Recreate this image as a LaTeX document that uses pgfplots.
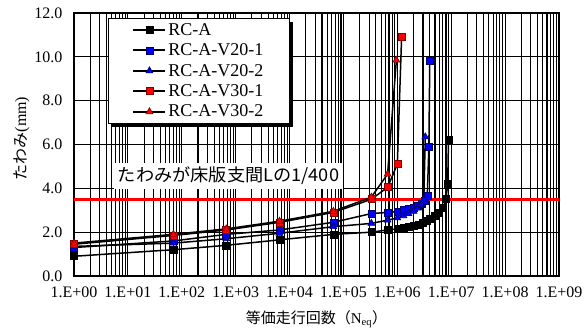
\documentclass[border=0pt]{standalone}
\usepackage{fontspec}
\setmainfont{Liberation Serif}
\newfontfamily\jp{Noto Sans CJK JP}
\usepackage{pgfplots}
\pgfplotsset{compat=1.18}
\begin{document}
\begin{tikzpicture}
\begin{axis}[
  at={(0,0)}, anchor=south west,
  scale only axis, width=485bp, height=263bp,
  xmode=log,
  xmin=1, xmax=1e9, ymin=0, ymax=12,
  xtick={1,10,100,1000,10000,100000,1000000,10000000,100000000,1000000000},
  xticklabels={1.E+00,1.E+01,1.E+02,1.E+03,1.E+04,1.E+05,1.E+06,1.E+07,1.E+08,1.E+09},
  ytick={0,2,4,6,8,10,12},
  yticklabel style={/pgf/number format/fixed, /pgf/number format/fixed zerofill, /pgf/number format/precision=1, /pgf/number format/assume math mode=true, xshift=-8bp},
  tick label style={font=\fontsize{16bp}{19bp}\selectfont},
  xticklabel style={yshift=-7bp},
  grid=both,
  grid style={black, line width=1bp},
  major grid style={black, line width=1.1bp},
  minor grid style={black, line width=1.1bp},
  tick style={black, line width=1bp},
  major tick length=3bp, minor tick length=0bp,
  tick align=inside,
  axis line style={black, line width=2.5bp},
  xlabel={{\jp 等価走行回数（}N\textsubscript{eq}{\jp ）}},
  ylabel={{\jp たわみ}(mm)},
  xlabel style={font=\fontsize{15bp}{18bp}\selectfont, yshift=-6bp},
  ylabel style={font=\fontsize{16bp}{19bp}\selectfont, yshift=-2bp, xshift=6bp},
  legend cell align=left,
  legend style={at={(axis description cs:0.07,0.982)}, anchor=north west, name=leg,
    draw=black, line width=1bp, fill=white,
    font=\fontsize{18bp}{21bp}\selectfont,
    row sep=3bp, inner xsep=24bp, inner ysep=3bp},
  legend image code/.code={\draw[#1, line width=2bp, mark repeat=2, mark phase=2] plot coordinates {(0bp,0bp)(16bp,0bp)(32bp,0bp)};},
]
\addplot[red, line width=3bp, forget plot] coordinates {(1,3.5) (1e9,3.5)};

\addplot[black, line width=1.5bp, mark=square*, mark size=3.5bp, mark options={solid, fill=black, draw=black, line width=0.6bp}] coordinates {
(1,0.9) (70,1.2) (670,1.4) (6500,1.65) (65000,1.9) (330000,2.0) (660000,2.1)
(1.0e6,2.15) (1.3e6,2.2) (1.6e6,2.25) (2e6,2.3) (2.5e6,2.35) (3e6,2.45) (3.5e6,2.5)
(4e6,2.6) (5e6,2.75) (6e6,2.9) (7e6,3.1) (8e6,3.5) (8.6e6,4.2) (8.9e6,6.2)};
\addlegendentry{RC-A}

\addplot[black, line width=1.5bp, mark=square*, mark size=3.5bp, mark options={solid, fill=blue, draw=blue!40!black, line width=0.6bp}] coordinates {
(1,1.3) (70,1.6) (670,1.9) (6500,2.1) (65000,2.45) (330000,2.85) (660000,2.9)
(1e6,2.95) (1.3e6,3.0) (1.6e6,3.05) (2e6,3.1) (2.4e6,3.2) (2.8e6,3.3) (3.2e6,3.45)
(3.6e6,3.65) (3.85e6,5.9) (4.0e6,9.8)};
\addlegendentry{RC-A-V20-1}

\addplot[black, line width=1.5bp, mark=triangle*, mark size=4bp, mark options={solid, fill=blue, draw=blue!40!black, line width=0.6bp}] coordinates {
(1,1.35) (70,1.5) (670,1.7) (6500,1.95) (65000,2.25) (330000,2.4) (660000,2.55)
(1e6,2.65) (1.3e6,2.75) (1.6e6,2.85) (2e6,2.95) (2.4e6,3.1) (2.8e6,3.25) (3.1e6,3.5)
(3.3e6,6.35)};
\addlegendentry{RC-A-V20-2}

\addplot[black, line width=1.5bp, mark=square*, mark size=3.5bp, mark options={solid, fill=red, draw=red!50!black, line width=0.6bp}] coordinates {
(1,1.45) (70,1.85) (670,2.1) (6500,2.45) (65000,2.9) (330000,3.5) (660000,4.05)
(1e6,5.1) (1.2e6,10.9)};
\addlegendentry{RC-A-V30-1}

\addplot[black, line width=1.5bp, mark=triangle*, mark size=4bp, mark options={solid, fill=red, draw=red!50!black, line width=0.6bp}] coordinates {
(1,1.5) (70,1.9) (670,2.15) (6500,2.5) (65000,2.95) (330000,3.6) (660000,4.65)
(9.6e5,9.85)};
\addlegendentry{RC-A-V30-2}

\node[fill=white, anchor=west, inner xsep=4bp, inner ysep=4bp, font=\jp\fontsize{17.5bp}{20bp}\selectfont] at (axis description cs:0.082,0.38) {\scalebox{1.04}[1]{たわみが床版支間Lの1/400}};
\end{axis}
\draw[black, line width=3bp] ([xshift=1.5bp,yshift=-4bp]leg.north east) -- ([xshift=1.5bp,yshift=-1.5bp]leg.south east) -- ([xshift=4bp,yshift=-1.5bp]leg.south west);
\pgfresetboundingbox
\path[use as bounding box] (-74bp,-55bp) rectangle (511bp,276bp);
\end{tikzpicture}
\end{document}
